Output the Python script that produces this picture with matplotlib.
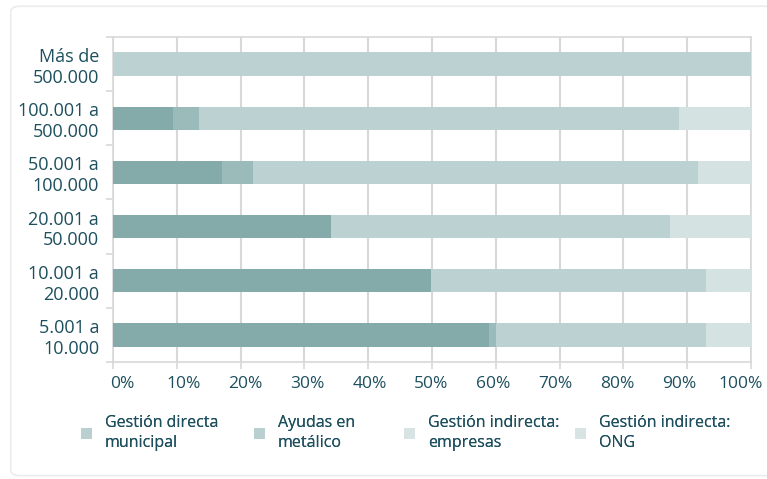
import matplotlib.pyplot as plt
from matplotlib.patches import FancyBboxPatch, Patch
import numpy as np

plt.rcParams['font.family'] = ['Open Sans', 'DejaVu Sans']

categorias = ['5.001 a\n10.000', '10.001 a\n20.000', '20.001 a\n50.000',
              '50.001 a\n100.000', '100.001 a\n500.000', 'Más de\n500.000']
directa = [58.9, 49.9, 34.2, 17.1, 9.4, 0.0]
ayudas = [1.2, 0.0, 0.0, 4.9, 4.1, 0.0]
empresas = [32.8, 43.0, 53.1, 69.7, 75.2, 100.0]
ong = [7.1, 7.1, 12.7, 8.3, 11.3, 0.0]

series = ['Gestión directa\nmunicipal', 'Ayudas en\nmetálico',
          'Gestión indirecta:\nempresas', 'Gestión indirecta:\nONG']
colores = ['#84aba9', '#9bbbba', '#bcd1d2', '#d5e2e2']
colores_leyenda = ['#bad0d0', '#bad0d0', '#d8e4e4', '#d8e4e4']
texto = '#1d4f5e'
gris = '#d8d8d8'

fig = plt.figure(figsize=(7.67, 4.79), dpi=100)
fig.patches.append(FancyBboxPatch((0.014, 0.007), 1.02, 0.98,
                                  boxstyle='round,pad=0,rounding_size=0.012',
                                  transform=fig.transFigure, facecolor='white',
                                  edgecolor='#ececec', linewidth=1.2, zorder=-1))
ax = fig.add_axes([113 / 767, 1 - 362 / 479, 638 / 767, 325 / 479])

y = np.arange(len(categorias))
izq = np.zeros(len(categorias))
for vals, col, lab in zip([directa, ayudas, empresas, ong], colores, series):
    ax.barh(y, vals, left=izq, height=0.43, color=col, label=lab, zorder=3)
    izq = izq + np.array(vals)

ax.set_xlim(0, 100)
ax.set_ylim(-0.5, len(categorias) - 0.5)
# ticks en la rejilla, etiquetas algo desplazadas como en el original
pct = np.arange(0, 101, 10)
ax.set_xticks(pct)
ax.set_xticklabels([])
ax.set_xticks(pct + 1.4 - 0.03 * pct, minor=True)
ax.set_xticklabels([f'{v}%' for v in pct], minor=True)
ax.tick_params(axis='x', which='major', length=5, color=gris, width=1.2)
ax.tick_params(axis='x', which='minor', length=0, pad=10, labelsize=12.5, labelcolor=texto)

ax.set_yticks(y)
ax.set_yticklabels(categorias, linespacing=1.2)
ax.set_yticks(np.arange(-0.5, len(categorias), 1), minor=True)
ax.tick_params(axis='y', which='major', length=0, pad=10, labelsize=13, labelcolor=texto)
ax.tick_params(axis='y', which='minor', length=5, color=gris, width=1.2)
ax.grid(axis='x', which='major', color=gris, linewidth=1.5, zorder=0)
for s in ax.spines.values():
    s.set_color(gris)
    s.set_linewidth(1.2)

# leyenda: una entrada por columna, colocadas como en el original
pos_x = [81, 254, 404, 575]
for lab, c, px in zip(series, colores_leyenda, pos_x):
    leg = fig.legend([Patch(facecolor=c, edgecolor='none')], [lab], loc='center left',
                     bbox_to_anchor=(px / 767, 1 - 433 / 479), frameon=False,
                     fontsize=11.5, labelcolor=texto, borderpad=0, borderaxespad=0,
                     handlelength=0.7, handleheight=0.7, handletextpad=0.8)
    for t in leg.get_texts():
        t.set_linespacing(1.3)
    fig.add_artist(leg)

fig.savefig('out.png', dpi=100)
